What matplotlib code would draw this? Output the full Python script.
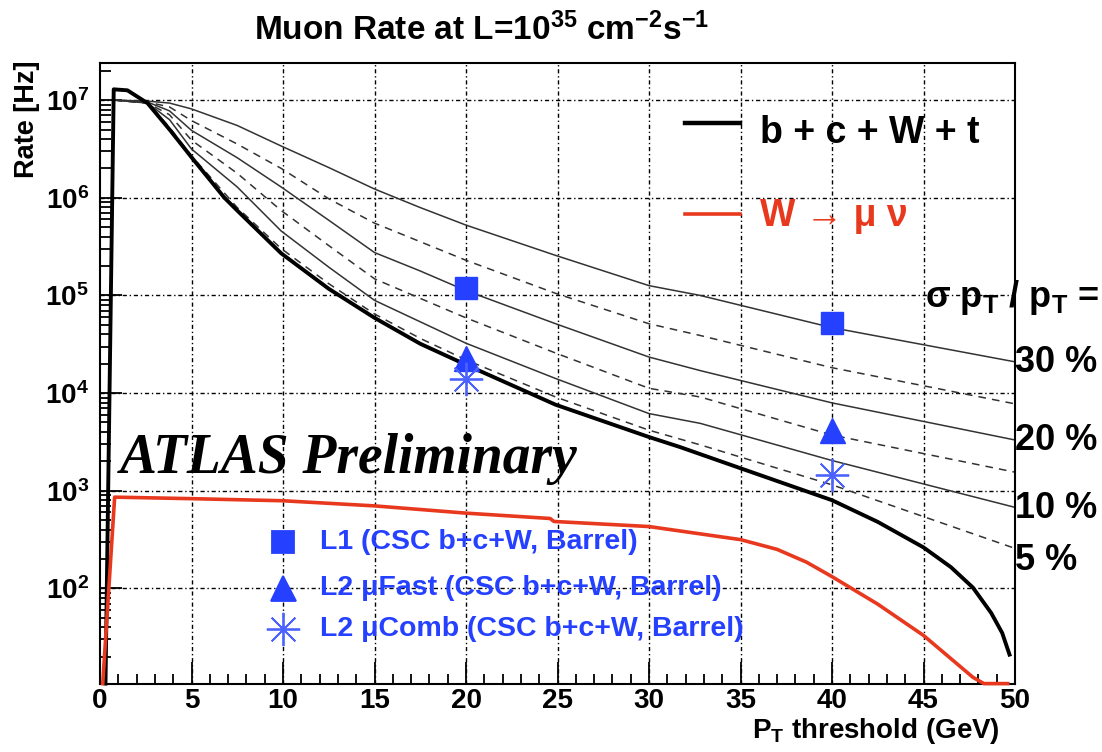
import matplotlib
matplotlib.use("Agg")
import matplotlib.pyplot as plt
from matplotlib.ticker import FixedLocator, MultipleLocator, FuncFormatter, NullFormatter
import math

plt.rcParams['font.family'] = ['Liberation Sans', 'DejaVu Sans']
plt.rcParams['font.weight'] = 'bold'
plt.rcParams['mathtext.fontset'] = 'custom'
plt.rcParams['mathtext.rm'] = 'Liberation Sans:bold'
plt.rcParams['mathtext.bf'] = 'Liberation Sans:bold'
plt.rcParams['mathtext.it'] = 'Liberation Sans:italic:bold'
plt.rcParams['mathtext.sf'] = 'Liberation Sans:bold'

# ---------------- data ----------------
pt_total = [0.3, 0.75, 1.5, 2.6, 3.8, 5.0, 6.8, 7.5, 9.9, 12.5, 15.0, 17.5, 20.0, 24.9, 30.0,
            31.7, 35.0, 40.0, 42.5, 45.0, 46.5, 47.7, 48.7, 49.3, 49.7]
rate_total = [10.6, 1.29e7, 1.26e7, 9.3e6, 5.0e6, 2.6e6, 1.0e6, 7.4e5, 2.7e5, 1.17e5, 5.9e4,
              3.2e4, 1.95e4, 7.6e3, 3.55e3, 2.8e3, 1.7e3, 800, 480, 263, 165, 102, 56, 35, 21]

pt_res = [0.8, 2.6, 3.8, 5.0, 7.5, 9.9, 12.5, 15.0, 17.5, 20.0, 24.9, 30.0, 32.8, 40.0, 50.0]
res30 = [1.0e7, 9.77e6, 9.33e6, 8.13e6, 5.50e6, 3.39e6, 2.04e6, 1.23e6, 7.94e5, 5.25e5, 2.57e5,
         1.26e5, 1.0e5, 4.68e4, 2.09e4]
res25 = [1.0e7, 9.55e6, 8.51e6, 6.17e6, 3.55e6, 2.0e6, 9.77e5, 5.50e5, 3.55e5, 2.29e5, 1.05e5,
         5.13e4, 3.89e4, 1.82e4, 7.76e3]
res20 = [1.0e7, 9.55e6, 7.76e6, 4.90e6, 2.57e6, 1.29e6, 5.89e5, 2.75e5, 1.78e5, 1.12e5, 5.13e4,
         2.34e4, 1.70e4, 7.94e3, 3.31e3]
res15 = [1.0e7, 9.33e6, 7.08e6, 3.89e6, 1.78e6, 7.41e5, 3.24e5, 1.48e5, 9.33e4, 5.89e4, 2.57e4,
         1.12e4, 9.12e3, 3.72e3, 1.55e3]
res10 = [1.0e7, 9.33e6, 6.31e6, 3.16e6, 1.29e6, 4.57e5, 1.95e5, 8.91e4, 5.37e4, 3.24e4, 1.41e4,
         6.17e3, 4.90e3, 2.04e3, 676]
res05 = [1.0e7, 9.33e6, 5.25e6, 2.69e6, 7.94e5, 3.02e5, 1.32e5, 6.46e4, 3.63e4, 2.19e4, 9.12e3,
         4.17e3, 2.95e3, 1.15e3, 257]
res_labels = ["30 %", "20 %", "10 %", "5 %"]

pt_w = [0.15, 0.8, 5.0, 10.0, 15.0, 20.0, 24.6, 24.8, 30.0, 35.0, 37.0, 38.6, 40.0, 42.5, 45.0,
        47.7, 48.3, 49.6]
rate_w = [10.6, 860, 830, 790, 700, 590, 520, 485, 430, 316, 251, 186, 132, 69, 33, 12.3, 10.6, 10.6]

pt_mark = [20, 40]
rate_l1 = [1.2e5, 5.2e4]
rate_l2fast = [2.3e4, 4.2e3]
rate_l2comb = [1.4e4, 1.45e3]

x_ticks = [0, 5, 10, 15, 20, 25, 30, 35, 40, 45, 50]
y_decades = [1e2, 1e3, 1e4, 1e5, 1e6, 1e7]

# ---------------- figure ----------------
W, H = 1102, 752
fig = plt.figure(figsize=(W / 100, H / 100), dpi=100)
ax = fig.add_axes([100 / W, 1 - 684 / H, 915 / W, 621 / H])
ax.set_yscale('log')
ax.set_xlim(0, 50)
ax.set_ylim(10.5, 2.4e7)

blue = '#2541ff'
red = '#e8391f'

# grid
gstyle = dict(color='black', lw=1.0, ls=(0, (3, 2, 1, 2)), zorder=1)
for xv in x_ticks[1:-1]:
    ax.axvline(xv, **gstyle)
for yv in y_decades:
    ax.axhline(yv, **gstyle)

# resolution curves
for vals, ls in [(res30, '-'), (res25, (0, (5, 4))), (res20, '-'), (res15, (0, (5, 4))),
                 (res10, '-'), (res05, (0, (5, 4)))]:
    ax.plot(pt_res, vals, color='#333333', lw=1.1, ls=ls, zorder=2)

ax.plot(pt_total, rate_total, color='black', lw=2.8, zorder=3, clip_on=False)
ax.plot(pt_w, rate_w, color=red, lw=2.6, zorder=3, clip_on=False)

# markers
ax.plot(pt_mark, rate_l1, ls='none', marker='s', ms=16, color=blue, zorder=5)
ax.plot(pt_mark, rate_l2fast, ls='none', marker='^', ms=18, color=blue, zorder=5)
ax.plot(pt_mark, rate_l2comb, ls='none', marker=(8, 2, 0), ms=24, mew=1.3,
        color='#4b62ff', zorder=5)

# axes styling
for s in ax.spines.values():
    s.set_linewidth(1.5)
ax.xaxis.set_major_locator(FixedLocator(x_ticks))
ax.xaxis.set_minor_locator(MultipleLocator(1))
ax.set_xticklabels([str(t) for t in x_ticks])
ax.yaxis.set_major_locator(FixedLocator(y_decades))
minors = [m * 10 ** e for e in range(1, 8) for m in range(2, 10)]
ax.yaxis.set_minor_locator(FixedLocator(minors))
ax.yaxis.set_major_formatter(FuncFormatter(lambda v, p: r'$10^{%d}$' % round(math.log10(v))))
ax.yaxis.set_minor_formatter(NullFormatter())
ax.tick_params(which='both', direction='in', top=False, right=False, width=1.3)
ax.tick_params(axis='x', which='major', length=16, pad=3, labelsize=20)
ax.tick_params(axis='x', which='minor', length=7)
ax.tick_params(axis='y', which='major', length=16, pad=8, labelsize=20)
ax.tick_params(axis='y', which='minor', length=8)

# titles
fig.text(482 / W, 1 - 30 / H, r'Muon Rate at L=10$^{35}$ cm$^{-2}$s$^{-1}$',
         ha='center', va='center', fontsize=24, fontweight='bold')
fig.text(27 / W, 1 - 60 / H, 'Rate [Hz]', rotation=90, ha='center', va='top',
         fontsize=19.5, fontweight='bold')
fig.text(1000 / W, 1 - 731 / H, r'P$_\mathrm{T}$ threshold (GeV)', ha='right', va='center',
         fontsize=20, fontweight='bold')

# legend-like annotations (figure pixel coordinates)
def px(x, y):
    return (x / W, 1 - y / H)

fig.add_artist(plt.Line2D([685 / W, 740 / W], [1 - 123 / H] * 2, color='black', lw=3.2))
fig.text(*px(760, 133), 'b + c + W + t', ha='left', va='center', fontsize=27, fontweight='bold')
fig.add_artist(plt.Line2D([685 / W, 740 / W], [1 - 214 / H] * 2, color=red, lw=2.6))
fig.text(*px(760, 216), 'W \u2192 \u03bc \u03bd', ha='left', va='center', fontsize=27,
         fontweight='bold', color=red)

fig.text(*px(925, 298), '\u03c3 p$_\\mathrm{T}$ / p$_\\mathrm{T}$ =', ha='left', va='center',
         fontsize=26, fontweight='bold')
for lab, yy in zip(res_labels, [363, 440, 508, 560]):
    fig.text(*px(1015, yy), lab, ha='left', va='center', fontsize=26, fontweight='bold')

fig.text(*px(120, 473), 'ATLAS Preliminary', ha='left', va='baseline', fontsize=40,
         fontweight='bold', fontstyle='italic', family='Liberation Serif')

leg_items = [('s', 16, 'L1 (CSC b+c+W, Barrel)', 542),
             ('^', 18, 'L2 \u03bcFast (CSC b+c+W, Barrel)', 588),
             ((8, 2, 0), 24, 'L2 \u03bcComb (CSC b+c+W, Barrel)', 629)]
for mk, ms, lab, yy in leg_items:
    xx, yf = px(283, yy)
    fig.add_artist(plt.Line2D([xx], [yf], ls='none', marker=mk, ms=ms, mew=1.3,
                              color=blue if mk != (8, 2, 0) else '#4b62ff'))
    fig.text(*px(320, yy), lab, ha='left', va='center', fontsize=20.5, fontweight='bold',
             color=blue)

fig.savefig('out.png', dpi=100)
